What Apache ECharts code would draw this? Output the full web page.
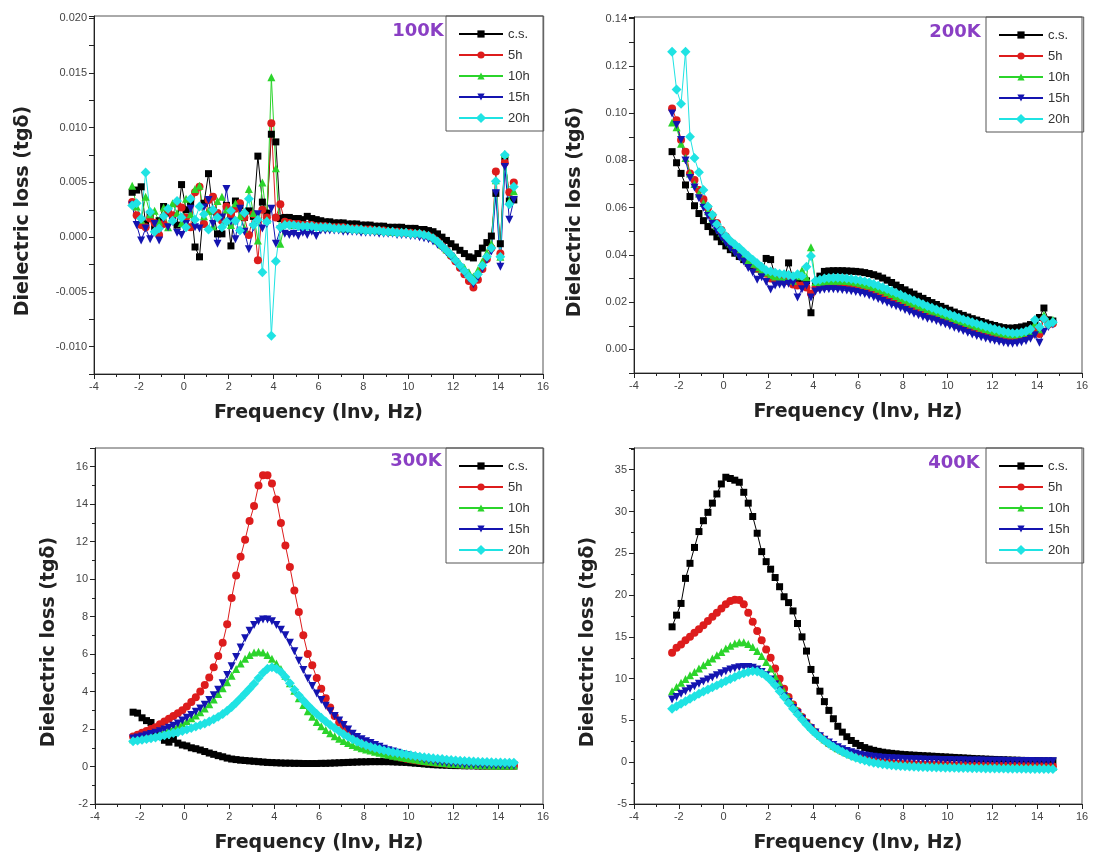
<!DOCTYPE html>
<html><head><meta charset="utf-8">
<script src="https://cdn.jsdelivr.net/npm/echarts@6/dist/echarts.min.js"></script>
<style>html,body{margin:0;padding:0;background:#fff}#c{width:1096px;height:863px}</style>
</head><body><div id="c"></div>
<script>
// ---- x values: ln(frequency) ----
const freq = [-2.3,-2.1,-1.9,-1.7,-1.5,-1.3,-1.1,-0.9,-0.7,-0.5,
-0.3,-0.1,0.1,0.3,0.5,0.7,0.9,1.1,1.3,1.5,
1.7,1.9,2.1,2.3,2.5,2.7,2.9,3.1,3.3,3.5,
3.7,3.9,4.1,4.3,4.5,4.7,4.9,5.1,5.3,5.5,
5.7,5.9,6.1,6.3,6.5,6.7,6.9,7.1,7.3,7.5,
7.7,7.9,8.1,8.3,8.5,8.7,8.9,9.1,9.3,9.5,
9.7,9.9,10.1,10.3,10.5,10.7,10.9,11.1,11.3,11.5,
11.7,11.9,12.1,12.3,12.5,12.7,12.9,13.1,13.3,13.5,
13.7,13.9,14.1,14.3,14.5,14.7];

const seriesNames = ['c.s.','5h','10h','15h','20h'];
const panelLabels = ['100K','200K','300K','400K'];

// ---- 100K ----
const k100_cs = [0.0041,0.0043,0.0046,0.0012,0.0021,0.0009,0.0015,0.0028,0.0022,0.0017,
0.0011,0.0048,0.0025,0.0032,-0.0009,-0.0018,0.0031,0.0058,0.0024,0.0003,
0.0003,0.0029,-0.0008,0.0033,0.0029,0.0018,0.0024,0.0019,0.0074,0.0032,
0.0022,0.0094,0.0087,0.0017,0.0018,0.0018,0.0017,0.0017,0.0016,0.0019,
0.0017,0.0016,0.0015,0.0014,0.0014,0.0013,0.0013,0.0013,0.0012,0.0012,
0.0012,0.0011,0.0011,0.0011,0.001,0.001,0.001,0.0009,0.0009,0.0009,
0.0009,0.0008,0.0008,0.0008,0.0007,0.0007,0.0006,0.0005,0.0003,0.0,
-0.0003,-0.0006,-0.0009,-0.0012,-0.0015,-0.0018,-0.0019,-0.0015,-0.001,-0.0005,
0.0001,0.004,-0.0006,0.0073,0.0033,0.0034];
const k100_5h = [0.0032,0.002,0.0011,0.0009,0.0017,0.0013,0.0002,0.0012,0.0024,0.002,
0.0031,0.0027,0.0018,0.0009,0.0041,0.0046,0.0012,0.0034,0.0037,0.0022,
0.0015,0.0028,0.0021,0.0026,0.0031,0.0018,0.0002,0.0021,-0.0021,0.0025,
0.0018,0.0104,0.0018,0.003,0.0014,0.0013,0.0012,0.0012,0.0011,0.0011,
0.0011,0.001,0.001,0.001,0.0009,0.0009,0.0009,0.0009,0.0008,0.0008,
0.0008,0.0007,0.0007,0.0007,0.0006,0.0006,0.0006,0.0005,0.0005,0.0005,
0.0004,0.0004,0.0004,0.0003,0.0003,0.0002,0.0001,-0.0001,-0.0004,-0.0008,
-0.0012,-0.0017,-0.0022,-0.0028,-0.0034,-0.004,-0.0046,-0.0039,-0.0029,-0.002,
-0.001,0.006,-0.0015,0.0068,0.0041,0.005];
const k100_10h = [0.0047,0.0028,0.0016,0.0037,0.0021,0.0024,0.0014,0.0027,0.0009,0.0031,
0.0022,0.0013,0.0035,0.0021,0.0044,0.0047,0.0019,0.0024,0.001,0.0033,
0.0037,0.0025,0.0011,0.0031,0.0019,0.0008,0.0044,0.0022,-0.0003,0.005,
0.0016,0.0146,0.0063,-0.0006,0.0013,0.0012,0.0011,0.0011,0.0011,0.001,
0.001,0.001,0.001,0.0009,0.0009,0.0009,0.0009,0.0008,0.0008,0.0008,
0.0008,0.0007,0.0007,0.0007,0.0007,0.0006,0.0006,0.0006,0.0005,0.0005,
0.0005,0.0005,0.0004,0.0004,0.0004,0.0003,0.0002,0.0,-0.0003,-0.0007,
-0.0011,-0.0015,-0.0019,-0.0024,-0.0028,-0.0032,-0.0036,-0.003,-0.0022,-0.0014,
-0.0006,0.0052,-0.0018,0.0076,0.0033,0.0042];
const k100_15h = [0.0029,0.0011,-0.0003,0.0008,-0.0002,0.0012,-0.0003,0.0017,0.0009,0.0014,
0.0004,0.0002,0.0012,0.0026,0.0009,0.0008,0.0027,0.0034,0.0012,-0.0006,
0.0018,0.0044,0.0014,-0.0002,0.0026,0.0005,-0.0011,0.0009,0.0021,0.0008,
0.0012,0.0026,-0.0006,0.0007,0.0003,0.0002,0.0003,0.0001,0.0004,0.0002,
0.0005,0.0001,0.0006,0.0006,0.0006,0.0006,0.0006,0.0005,0.0005,0.0005,
0.0005,0.0004,0.0004,0.0004,0.0004,0.0003,0.0003,0.0003,0.0003,0.0002,
0.0002,0.0002,0.0001,0.0001,0.0,-0.0001,-0.0002,-0.0004,-0.0007,-0.001,
-0.0014,-0.0018,-0.0023,-0.0028,-0.0033,-0.0038,-0.0043,-0.0037,-0.0029,-0.0021,
-0.0013,0.004,-0.0027,0.0064,0.0016,0.0034];
const k100_20h = [0.0029,0.0031,0.0017,0.0059,0.0023,0.0005,0.0008,0.0019,0.0026,0.0015,
0.0033,0.0018,0.0009,0.0035,0.0016,0.0028,0.0021,0.0007,0.0025,0.0018,
0.0009,0.0014,0.0024,0.0015,0.0006,0.0022,0.0035,0.0011,0.0016,-0.0032,
0.0014,-0.009,-0.0022,0.0009,0.0011,0.0011,0.0011,0.001,0.001,0.001,
0.001,0.0009,0.0009,0.0009,0.0009,0.0008,0.0008,0.0008,0.0008,0.0007,
0.0007,0.0007,0.0006,0.0006,0.0006,0.0006,0.0005,0.0005,0.0005,0.0004,
0.0004,0.0004,0.0003,0.0003,0.0003,0.0002,0.0001,-0.0001,-0.0004,-0.0008,
-0.0012,-0.0016,-0.0021,-0.0026,-0.0031,-0.0036,-0.004,-0.0034,-0.0026,-0.0018,
-0.001,0.0051,-0.0018,0.0075,0.003,0.0046];

// ---- 200K ----
const k200_cs = [0.0837,0.079,0.0745,0.0696,0.0647,0.0608,0.0575,0.0545,0.052,0.0497,
0.0476,0.0456,0.0438,0.0422,0.0407,0.0393,0.038,0.0365,0.0352,0.034,
0.033,0.0385,0.038,0.031,0.0305,0.03,0.0366,0.03,0.029,0.0285,
0.029,0.0155,0.027,0.031,0.033,0.0332,0.0333,0.0333,0.0333,0.0332,
0.0331,0.033,0.0328,0.0325,0.0321,0.0316,0.031,0.0302,0.0293,0.0283,
0.0272,0.0262,0.0252,0.0243,0.0234,0.0225,0.0216,0.0207,0.0198,0.019,
0.0182,0.0174,0.0166,0.0158,0.0151,0.0144,0.0137,0.013,0.0124,0.0118,
0.0112,0.0106,0.0101,0.0096,0.0092,0.009,0.009,0.0092,0.0095,0.0099,
0.0105,0.0115,0.0135,0.0175,0.0125,0.012];
const k200_5h = [0.102,0.097,0.0886,0.0837,0.0745,0.0717,0.0675,0.0635,0.06,0.0567,
0.0535,0.0505,0.0478,0.0455,0.0432,0.0412,0.0393,0.0376,0.036,0.0345,
0.0332,0.032,0.03,0.0296,0.0292,0.029,0.0288,0.0275,0.027,0.027,
0.0262,0.0235,0.026,0.0265,0.027,0.0272,0.0273,0.0273,0.0272,0.027,
0.0268,0.0265,0.0261,0.0256,0.025,0.0244,0.0237,0.023,0.0222,0.0214,
0.0206,0.0198,0.019,0.0182,0.0174,0.0166,0.0158,0.0151,0.0144,0.0137,
0.013,0.0123,0.0116,0.011,0.0103,0.0097,0.0091,0.0085,0.0079,0.0073,
0.0068,0.0063,0.0058,0.0054,0.005,0.0047,0.0046,0.0048,0.0052,0.0056,
0.0062,0.0085,0.0065,0.013,0.0105,0.011];
const k200_10h = [0.096,0.094,0.087,0.081,0.0745,0.07,0.066,0.062,0.0585,0.0553,
0.0523,0.0495,0.047,0.0448,0.0428,0.041,0.0393,0.0377,0.0362,0.0348,
0.0336,0.0325,0.0315,0.0308,0.0303,0.0298,0.0295,0.029,0.031,0.0335,
0.0305,0.0432,0.0285,0.0285,0.0288,0.029,0.0291,0.0291,0.029,0.0289,
0.0287,0.0284,0.028,0.0275,0.027,0.0264,0.0257,0.025,0.0242,0.0234,
0.0226,0.0218,0.021,0.0202,0.0194,0.0186,0.0178,0.0171,0.0164,0.0157,
0.015,0.0143,0.0136,0.0129,0.0122,0.0116,0.011,0.0104,0.0098,0.0092,
0.0086,0.0081,0.0076,0.0071,0.0067,0.0064,0.0063,0.0064,0.0067,0.0072,
0.0078,0.011,0.0085,0.0145,0.0115,0.0125];
const k200_15h = [0.0998,0.095,0.0886,0.08,0.0725,0.0685,0.064,0.06,0.0565,0.0532,
0.0502,0.0475,0.045,0.0428,0.0408,0.039,0.0372,0.0345,0.0325,0.0295,
0.0305,0.0285,0.0253,0.027,0.0275,0.0272,0.0278,0.028,0.022,0.0255,
0.027,0.022,0.0245,0.025,0.0253,0.0254,0.0254,0.0253,0.0251,0.0249,
0.0246,0.0243,0.0239,0.0234,0.0228,0.0221,0.0213,0.0205,0.0197,0.0189,
0.0183,0.0175,0.0167,0.0159,0.0151,0.0144,0.0137,0.013,0.0127,0.012,
0.0113,0.0106,0.0099,0.0092,0.0085,0.0078,0.007,0.0063,0.0057,0.0051,
0.0046,0.0041,0.0036,0.0032,0.0028,0.0025,0.0024,0.0026,0.003,0.0035,
0.0045,0.006,0.0028,0.0075,0.0095,0.0105];
const k200_20h = [0.126,0.110,0.104,0.126,0.090,0.081,0.075,0.0675,0.0605,0.057,
0.053,0.0505,0.048,0.046,0.0445,0.043,0.0412,0.0395,0.038,0.0365,
0.035,0.0335,0.033,0.0325,0.032,0.0318,0.0315,0.031,0.0318,0.031,
0.035,0.0395,0.029,0.0295,0.03,0.0302,0.0303,0.0303,0.0302,0.03,
0.0298,0.0295,0.0292,0.0288,0.0283,0.0277,0.027,0.0263,0.0255,0.0247,
0.0239,0.0231,0.0223,0.0215,0.0207,0.0199,0.0191,0.0183,0.0176,0.0169,
0.0162,0.0155,0.0148,0.0141,0.0134,0.0127,0.0121,0.0115,0.0109,0.0103,
0.0097,0.0091,0.0086,0.0081,0.0076,0.0072,0.0069,0.0069,0.0072,0.0077,
0.0085,0.0125,0.0095,0.013,0.0105,0.0115];

// ---- 300K ----
const k300_cs = [2.9,2.85,2.6,2.45,2.35,1.9,1.6,1.4,1.3,1.45,
1.25,1.15,1.1,1.0,0.95,0.88,0.8,0.72,0.65,0.58,
0.52,0.45,0.4,0.37,0.34,0.32,0.3,0.28,0.26,0.24,
0.22,0.21,0.2,0.19,0.18,0.18,0.17,0.17,0.16,0.16,
0.16,0.16,0.17,0.17,0.18,0.19,0.2,0.21,0.22,0.23,
0.24,0.25,0.25,0.26,0.26,0.26,0.26,0.26,0.25,0.24,
0.23,0.22,0.2,0.18,0.16,0.14,0.12,0.1,0.09,0.08,
0.07,0.06,0.05,0.05,0.04,0.04,0.04,0.03,0.03,0.03,
0.03,0.03,0.03,0.03,0.03,0.03];
const k300_5h = [1.6,1.7,1.8,1.9,2.0,2.1,2.25,2.4,2.55,2.7,
2.85,3.0,3.2,3.45,3.7,4.0,4.35,4.75,5.3,5.9,
6.6,7.6,9.0,10.2,11.2,12.1,13.1,13.9,15.0,15.55,
15.55,15.1,14.25,13.0,11.8,10.65,9.4,8.25,7.0,6.0,
5.4,4.72,4.15,3.65,3.15,2.7,2.35,2.05,1.8,1.6,
1.42,1.27,1.13,1.0,0.9,0.81,0.73,0.66,0.59,0.53,
0.47,0.42,0.38,0.34,0.3,0.27,0.24,0.21,0.19,0.17,
0.15,0.13,0.12,0.11,0.1,0.09,0.08,0.07,0.07,0.06,
0.06,0.05,0.05,0.05,0.04,0.04];
const k300_10h = [1.45,1.5,1.55,1.6,1.66,1.72,1.8,1.88,1.97,2.07,
2.18,2.3,2.43,2.57,2.72,2.9,3.1,3.33,3.58,3.87,
4.18,4.5,4.85,5.2,5.5,5.75,5.95,6.08,6.12,6.08,
5.95,5.75,5.5,5.2,4.85,4.45,4.05,3.65,3.28,2.95,
2.65,2.38,2.15,1.95,1.77,1.62,1.48,1.36,1.25,1.15,
1.06,0.98,0.91,0.85,0.79,0.73,0.68,0.63,0.58,0.53,
0.49,0.45,0.41,0.37,0.34,0.3,0.27,0.24,0.21,0.19,
0.17,0.15,0.13,0.12,0.11,0.1,0.09,0.08,0.07,0.07,
0.06,0.06,0.05,0.05,0.05,0.05];
const k300_15h = [1.5,1.55,1.6,1.67,1.74,1.8,1.88,1.97,2.07,2.18,
2.3,2.45,2.6,2.75,2.92,3.1,3.3,3.55,3.8,4.1,
4.45,4.88,5.35,5.85,6.35,6.85,7.25,7.55,7.75,7.85,
7.85,7.75,7.55,7.3,7.0,6.6,6.15,5.65,5.15,4.7,
4.3,3.9,3.55,3.25,2.95,2.7,2.45,2.22,1.97,1.75,
1.57,1.45,1.35,1.25,1.15,1.05,0.95,0.87,0.8,0.73,
0.66,0.6,0.54,0.48,0.43,0.38,0.34,0.3,0.26,0.23,
0.2,0.18,0.16,0.14,0.12,0.11,0.1,0.09,0.08,0.07,
0.07,0.06,0.06,0.05,0.05,0.05];
const k300_20h = [1.35,1.38,1.42,1.46,1.5,1.55,1.6,1.66,1.72,1.79,
1.83,1.9,1.97,2.05,2.13,2.21,2.3,2.4,2.52,2.65,
2.8,2.98,3.18,3.4,3.65,3.9,4.15,4.42,4.72,5.0,
5.22,5.3,5.22,5.05,4.78,4.45,4.1,3.8,3.52,3.27,
3.03,2.8,2.6,2.4,2.22,2.05,1.88,1.72,1.58,1.45,
1.33,1.22,1.13,1.05,0.98,0.92,0.86,0.81,0.76,0.72,
0.68,0.64,0.6,0.56,0.53,0.5,0.47,0.44,0.42,0.4,
0.37,0.35,0.33,0.31,0.3,0.28,0.27,0.26,0.25,0.24,
0.23,0.22,0.22,0.21,0.21,0.2];

// ---- 400K ----
const k400_cs = [16.2,17.6,19.0,22.0,23.8,25.7,27.6,28.9,29.9,31.0,
32.1,33.3,34.1,33.95,33.75,33.5,32.3,31.0,29.4,27.4,
25.2,24.0,23.1,22.1,21.0,19.8,19.1,18.1,16.6,15.0,
13.3,11.1,9.8,8.5,7.25,6.2,5.2,4.3,3.6,3.05,
2.6,2.25,2.0,1.75,1.57,1.42,1.3,1.2,1.12,1.06,
1.0,0.95,0.91,0.87,0.84,0.81,0.78,0.75,0.72,0.69,
0.66,0.63,0.6,0.57,0.54,0.51,0.48,0.45,0.42,0.4,
0.37,0.35,0.33,0.31,0.29,0.27,0.25,0.24,0.22,0.21,
0.2,0.19,0.18,0.17,0.16,0.15];
const k400_5h = [13.1,13.7,14.1,14.6,15.0,15.5,15.9,16.4,16.9,17.4,
17.9,18.4,18.9,19.3,19.45,19.4,18.9,17.9,16.8,15.7,
14.6,13.5,12.5,11.2,10.0,8.8,7.8,6.9,6.1,5.4,
4.75,4.15,3.6,3.1,2.65,2.25,1.9,1.6,1.32,1.08,
0.87,0.68,0.52,0.38,0.26,0.16,0.07,0.0,-0.06,-0.1,
-0.14,-0.17,-0.2,-0.22,-0.24,-0.26,-0.28,-0.29,-0.3,-0.31,
-0.32,-0.33,-0.34,-0.35,-0.36,-0.37,-0.38,-0.38,-0.39,-0.4,
-0.4,-0.41,-0.41,-0.42,-0.42,-0.43,-0.43,-0.44,-0.44,-0.45,
-0.45,-0.46,-0.46,-0.47,-0.47,-0.48];
const k400_10h = [8.5,9.0,9.5,9.95,10.4,10.8,11.2,11.6,12.0,12.4,
12.8,13.2,13.6,13.95,14.2,14.35,14.35,14.15,13.8,13.3,
12.7,12.0,11.2,10.3,9.4,8.5,7.7,6.9,6.2,5.5,
4.85,4.25,3.7,3.2,2.75,2.35,2.0,1.68,1.4,1.15,
0.92,0.72,0.55,0.4,0.27,0.16,0.06,-0.02,-0.09,-0.14,
-0.18,-0.22,-0.25,-0.28,-0.3,-0.32,-0.34,-0.36,-0.37,-0.39,
-0.4,-0.41,-0.42,-0.43,-0.44,-0.45,-0.46,-0.47,-0.47,-0.48,
-0.49,-0.49,-0.5,-0.5,-0.51,-0.51,-0.52,-0.52,-0.53,-0.53,
-0.54,-0.54,-0.55,-0.55,-0.56,-0.56];
const k400_15h = [7.5,7.8,8.2,8.5,8.8,9.1,9.4,9.65,9.9,10.15,
10.4,10.65,10.9,11.1,11.25,11.35,11.4,11.4,11.3,11.1,
10.8,10.4,9.9,9.3,8.6,7.9,7.2,6.5,5.85,5.2,
4.6,4.05,3.55,3.1,2.7,2.35,2.05,1.78,1.55,1.35,
1.18,1.03,0.9,0.8,0.71,0.64,0.58,0.53,0.49,0.46,
0.43,0.41,0.39,0.37,0.35,0.34,0.32,0.31,0.3,0.29,
0.28,0.27,0.26,0.25,0.24,0.23,0.22,0.21,0.2,0.2,
0.19,0.18,0.18,0.17,0.17,0.16,0.16,0.15,0.15,0.14,
0.14,0.13,0.13,0.12,0.12,0.12];
const k400_20h = [6.4,6.7,7.0,7.3,7.6,7.9,8.2,8.45,8.7,8.95,
9.2,9.45,9.7,9.95,10.2,10.45,10.65,10.8,10.9,10.85,
10.65,10.3,9.8,9.2,8.5,7.8,7.1,6.4,5.75,5.1,
4.5,3.95,3.45,3.0,2.58,2.2,1.85,1.54,1.25,0.98,
0.75,0.54,0.36,0.2,0.06,-0.06,-0.16,-0.25,-0.32,-0.38,
-0.43,-0.47,-0.5,-0.53,-0.55,-0.57,-0.59,-0.61,-0.62,-0.64,
-0.65,-0.66,-0.67,-0.68,-0.69,-0.7,-0.71,-0.72,-0.73,-0.74,
-0.75,-0.75,-0.76,-0.77,-0.77,-0.78,-0.79,-0.79,-0.8,-0.8,
-0.81,-0.81,-0.82,-0.82,-0.83,-0.83];

const panelData = [
  [k100_cs,k100_5h,k100_10h,k100_15h,k100_20h],
  [k200_cs,k200_5h,k200_10h,k200_15h,k200_20h],
  [k300_cs,k300_5h,k300_10h,k300_15h,k300_20h],
  [k400_cs,k400_5h,k400_10h,k400_15h,k400_20h]
];

// ---- styling (not data) ----
const styles = [
  {color:'#000000', symbol:'rect', size:7, rot:0},
  {color:'#dd1c1c', symbol:'circle', size:8, rot:0},
  {color:'#2bd42b', symbol:'triangle', size:8, rot:0},
  {color:'#1414b0', symbol:'triangle', size:8, rot:180},
  {color:'#1fe3e3', symbol:'rect', size:7, rot:45}
];
const grids = [
  {left:94, top:16, width:449, height:358},
  {left:634, top:17, width:448, height:356},
  {left:95, top:448, width:448, height:356},
  {left:634, top:448, width:448, height:356}
];
const axisColor = '#222';
const tickFont = {fontSize:11, color:'#444', fontFamily:'"Liberation Sans", Arial, sans-serif'};

function fmtStep(step, dec, lo, hi){
  return function(v){
    const k = v/step;
    if (Math.abs(k-Math.round(k))>1e-6 || v<lo-1e-9 || v>hi+1e-9) return '';
    return (Math.abs(v)<1e-12?0:v).toFixed(dec);
  };
}
const yCfg = [
  {min:-0.0125, max:0.0202, interval:0.0025, fmt:fmtStep(0.005,3,-0.010,0.020), minor:false},
  {min:-0.01, max:0.1407, interval:0.01, fmt:fmtStep(0.02,2,0,0.14), minor:false},
  {min:-2, max:17, interval:2, fmt:fmtStep(2,0,-2,16), minor:true},
  {min:-5, max:37.6, interval:5, fmt:fmtStep(5,0,-5,35), minor:true}
];

const xAxes = grids.map((g,i)=>({
  type:'value', gridIndex:i, min:-4, max:16, interval:2,
  name:'Frequency (ln\u03bd, Hz)', nameLocation:'middle', nameGap:30,
  nameTextStyle:{fontSize:19, fontWeight:'bold', color:'#222', fontFamily:'"DejaVu Sans", sans-serif'},
  axisLine:{show:true, onZero:false, lineStyle:{color:axisColor, width:1}},
  axisTick:{show:true, inside:false, length:5, lineStyle:{color:axisColor}},
  minorTick:{show:true, splitNumber:2, length:3, lineStyle:{color:axisColor}},
  splitLine:{show:false},
  axisLabel:Object.assign({margin:7}, tickFont)
}));
const yAxes = yCfg.map((c,i)=>({
  type:'value', gridIndex:i, min:c.min, max:c.max, interval:c.interval,
  axisLine:{show:true, onZero:false, lineStyle:{color:axisColor, width:1}},
  axisTick:{show:true, inside:false, length:5, lineStyle:{color:axisColor}},
  minorTick:{show:c.minor, splitNumber:2, length:3, lineStyle:{color:axisColor}},
  splitLine:{show:false},
  axisLabel:Object.assign({margin:7, formatter:c.fmt}, tickFont)
}));

const series = [];
panelData.forEach((arrs,pi)=>{
  arrs.forEach((ys,si)=>{
    const st = styles[si];
    series.push({
      name:seriesNames[si], type:'line', xAxisIndex:pi, yAxisIndex:pi,
      data:freq.map((x,k)=>[x, ys[k]]),
      symbol:st.symbol, symbolSize:st.size, symbolRotate:st.rot, showSymbol:true,
      lineStyle:{width:1, color:st.color}, itemStyle:{color:st.color},
      animation:false, silent:true, clip:true
    });
  });
});

const legendPos = [[446,16],[986,17],[446,448],[986,448]];
const legends = legendPos.map(p=>({
  left:p[0], top:p[1], orient:'vertical', data:seriesNames,
  itemWidth:44, itemHeight:9, itemGap:7, padding:[11,14,6,12],
  borderColor:'#555', borderWidth:1, selectedMode:false,
  textStyle:{fontSize:13, color:'#333', lineHeight:14, fontFamily:'"Liberation Sans", Arial, sans-serif'}
}));

const labelPos = [[418,31],[955,32],[416,461],[954,463]];
const yTitlePos = [[23,211],[575,212],[49,642],[588,642]];
const graphic = [];
labelPos.forEach((p,i)=>graphic.push({type:'text', x:p[0], y:p[1], silent:true,
  style:{text:panelLabels[i], font:'bold 18px "DejaVu Sans", sans-serif', fill:'#8a3fc4', align:'center', verticalAlign:'middle'}}));
yTitlePos.forEach(p=>graphic.push({type:'text', x:p[0], y:p[1], rotation:Math.PI/2, silent:true,
  style:{text:'Dielectric loss (tg\u03b4)', font:'bold 19px "DejaVu Sans", sans-serif', fill:'#222', align:'center', verticalAlign:'middle'}}));

const chart = echarts.init(document.getElementById('c'), null, {renderer:'canvas'});
chart.setOption({
  backgroundColor:'#ffffff',
  animation:false,
  grid:grids.map(g=>Object.assign({show:true, borderColor:'#555', borderWidth:1, backgroundColor:'transparent'}, g)),
  xAxis:xAxes, yAxis:yAxes, legend:legends, series:series, graphic:graphic
});
</script>
</body></html>
